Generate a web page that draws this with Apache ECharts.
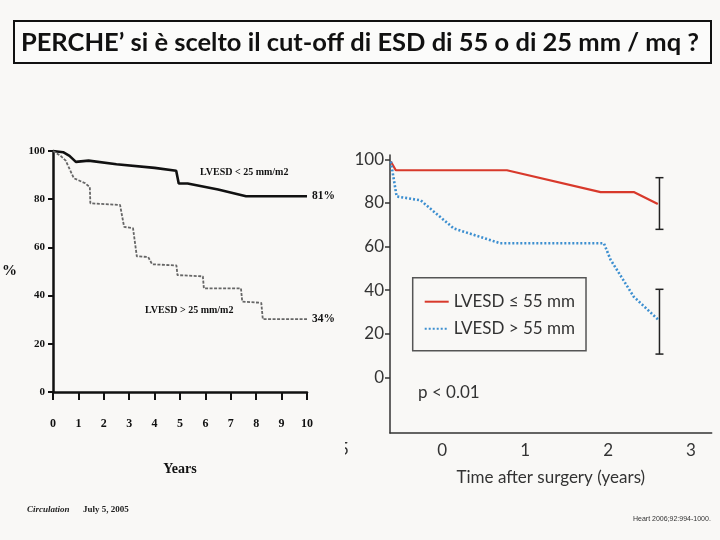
<!DOCTYPE html>
<html><head><meta charset="utf-8">
<script src="https://cdn.jsdelivr.net/npm/echarts@6/dist/echarts.min.js"></script>
<style>html,body{margin:0;padding:0;background:#f9f8f6}#c{width:720px;height:540px}</style>
</head><body><div id="c"></div>
<script>
// ---------- data ----------
const titleText = "PERCHE\u2019 si \u00e8 scelto il cut-off di ESD di 55 o di 25 mm / mq ?";

// Left panel (Circulation 2005): survival %, x = years
const leftXTicks = [0, 1, 2, 3, 4, 5, 6, 7, 8, 9, 10];
const leftYTicks = [0, 20, 40, 60, 80, 100];
const leftSmallName = "LVESD < 25 mm/m2";
const leftLargeName = "LVESD > 25 mm/m2";
const leftSmall = [[0,100],[0.4,99.5],[0.65,98],[0.9,95.5],[1.4,96],[2.5,94.5],[4.0,93],[4.85,91.8],[4.95,86.5],[5.3,86.5],[6.5,84],[7.6,81.2],[10,81.2]];
const leftLarge = [[0,100],[0.3,98],[0.5,96],[0.82,88.7],[1.27,86.6],[1.45,85],[1.47,78.3],[2.64,77.6],[2.8,68.5],[3.15,68],[3.3,56.3],[3.75,56],[3.9,53],[4.86,52.5],[4.9,48.5],[5.9,48],[5.94,43],[7.4,43],[7.45,37.5],[8.2,37],[8.26,30.2],[10,30.2]];
const leftEndLabels = ["81%", "34%"];
const leftYName = "%";
const leftXName = "Years";

// Right panel (Heart 2006): survival %, x = time after surgery (years)
const rightXTicks = [0, 1, 2, 3];
const rightYTicks = [0, 20, 40, 60, 80, 100];
const rightSmallName = "LVESD \u2264 55 mm";
const rightLargeName = "LVESD > 55 mm";
const rightSmall = [[-0.62,99],[-0.56,95],[0.78,95],[1.91,85],[2.31,85],[2.6,79.5]];
const rightLarge = [[-0.62,99],[-0.55,83],[-0.26,81.2],[-0.1,76],[0.14,68.3],[0.7,61.5],[1.95,61.5],[2.03,54],[2.31,37],[2.61,26.3]];
const rightErrorBars = [[2.62, 67.9, 91.6], [2.62, 10.7, 40.4]];
const rightXName = "Time after surgery (years)";
const pValueText = "p < 0.01";

const srcLeft1 = "Circulation", srcLeft2 = "July 5, 2005";
const srcRight = "Heart 2006;92:994-1000.";

// ---------- chart ----------
const chart = echarts.init(document.getElementById('c'));
const serif = '"Liberation Serif", "DejaVu Serif", serif';
const sans = 'Lato, "Open Sans", sans-serif';
const bg = '#f9f8f6';

const option = {
  backgroundColor: bg,
  animation: false,
  grid: [
    { left: 50.7, top: 151, width: 256.3, height: 241 },
    { left: 390, top: 155, width: 321.7, height: 278 }
  ],
  xAxis: [
    { gridIndex: 0, type: 'value', min: 0, max: 10, interval: 1,
      axisLine: { onZero: false, lineStyle: { color: '#111', width: 2.5 } },
      axisTick: { show: true, length: 8, lineStyle: { color: '#111', width: 2 } },
      axisLabel: { margin: 26, color: '#111', fontFamily: serif, fontWeight: 'bold', fontSize: 12 },
      splitLine: { show: false },
      name: leftXName, nameLocation: 'middle', nameGap: 70,
      nameTextStyle: { color: '#111', fontFamily: serif, fontWeight: 'bold', fontSize: 14 } },
    { gridIndex: 1, type: 'value', min: -0.63, max: 3.25,
      axisLine: { onZero: false, lineStyle: { color: '#333', width: 1.5 } },
      axisTick: { show: false },
      axisLabel: { customValues: rightXTicks, margin: 9, color: '#333', fontFamily: sans, fontSize: 17 },
      splitLine: { show: false },
      name: rightXName, nameLocation: 'middle', nameGap: 36,
      nameTextStyle: { color: '#333', fontFamily: sans, fontSize: 17 } }
  ],
  yAxis: [
    { gridIndex: 0, type: 'value', min: 0, max: 100, interval: 20,
      axisLine: { show: true, onZero: false, lineStyle: { color: '#111', width: 2.5 } },
      axisTick: { show: true, length: 5, lineStyle: { color: '#111', width: 2 } },
      axisLabel: { margin: 8, color: '#111', fontFamily: serif, fontWeight: 'bold', fontSize: 11 },
      splitLine: { show: false },
      name: leftYName, nameLocation: 'middle', nameRotate: 0, nameGap: 36,
      nameTextStyle: { color: '#111', fontFamily: serif, fontWeight: 'bold', fontSize: 15 } },
    { gridIndex: 1, type: 'value', min: -25.5, max: 102,
      axisLine: { show: true, onZero: false, lineStyle: { color: '#333', width: 1.5 } },
      axisTick: { show: true, customValues: rightYTicks, length: 5, lineStyle: { color: '#333', width: 1.5 } },
      axisLabel: { customValues: rightYTicks, margin: 6, color: '#333', fontFamily: sans, fontSize: 17 },
      splitLine: { show: false } }
  ],
  legend: {
    data: [rightSmallName, rightLargeName],
    orient: 'vertical', left: 412.7, top: 277.7,
    padding: [14, 11, 12, 11], itemGap: 7, itemWidth: 24, itemHeight: 14,
    borderColor: '#555', borderWidth: 1.5, backgroundColor: bg,
    itemStyle: { opacity: 0 },
    textStyle: { color: '#333', fontFamily: sans, fontSize: 17, lineHeight: 20 }
  },
  series: [
    { type: 'line', name: leftSmallName, xAxisIndex: 0, yAxisIndex: 0, data: leftSmall,
      symbol: 'none', lineStyle: { color: '#111', width: 2.6 },
      endLabel: { show: true, formatter: leftEndLabels[0], distance: 5, color: '#111', fontFamily: serif, fontWeight: 'bold', fontSize: 11.5 } },
    { type: 'line', name: leftLargeName, xAxisIndex: 0, yAxisIndex: 0, data: leftLarge,
      symbol: 'none', lineStyle: { color: '#666', width: 1.8, type: [3, 1.5] },
      endLabel: { show: true, formatter: leftEndLabels[1], distance: 5, color: '#111', fontFamily: serif, fontWeight: 'bold', fontSize: 11.5 } },
    { type: 'line', name: rightSmallName, xAxisIndex: 1, yAxisIndex: 1, data: rightSmall,
      symbol: 'none', itemStyle: { color: '#d8392b' }, lineStyle: { color: '#d8392b', width: 2.2 } },
    { type: 'line', name: rightLargeName, xAxisIndex: 1, yAxisIndex: 1, data: rightLarge,
      symbol: 'none', itemStyle: { color: '#3d8fd0' }, lineStyle: { color: '#3d8fd0', width: 2.6, type: [2, 2] } },
    { type: 'custom', name: 'CI', xAxisIndex: 1, yAxisIndex: 1, data: rightErrorBars,
      encode: { x: 0, y: [1, 2] },
      renderItem: function (params, api) {
        const x = api.value(0), lo = api.value(1), hi = api.value(2);
        const a = api.coord([x, lo]), b = api.coord([x, hi]);
        const w = 4, st = { stroke: '#222', lineWidth: 1.5 };
        return { type: 'group', children: [
          { type: 'line', shape: { x1: a[0], y1: a[1], x2: b[0], y2: b[1] }, style: st },
          { type: 'line', shape: { x1: a[0] - w, y1: a[1], x2: a[0] + w, y2: a[1] }, style: st },
          { type: 'line', shape: { x1: b[0] - w, y1: b[1], x2: b[0] + w, y2: b[1] }, style: st }
        ]};
      } }
  ],
  graphic: [
    { type: 'rect', shape: { x: 14, y: 21, width: 697, height: 42 }, style: { fill: '#fbfbfa', stroke: '#111', lineWidth: 2 } },
    { type: 'text', x: 360, y: 43, style: { text: titleText, align: 'center', verticalAlign: 'middle', fill: '#111', font: 'bold 25.5px Lato, "Open Sans", sans-serif' } },
    { type: 'text', x: 200, y: 172, style: { text: leftSmallName, verticalAlign: 'middle', fill: '#111', font: 'bold 10px "Liberation Serif", serif' } },
    { type: 'text', x: 145, y: 310, style: { text: leftLargeName, verticalAlign: 'middle', fill: '#111', font: 'bold 10px "Liberation Serif", serif' } },
    { type: 'text', x: 418, y: 393, style: { text: pValueText, verticalAlign: 'middle', fill: '#333', font: '17px Lato, "Open Sans", sans-serif' } },
    { type: 'text', x: 339, y: 450, style: { text: '5', verticalAlign: 'middle', fill: '#333', font: '17px Lato, "Open Sans", sans-serif' } },
    { type: 'rect', shape: { x: 330, y: 438, width: 15, height: 24 }, style: { fill: bg } },
    { type: 'text', x: 27, y: 510, style: { text: srcLeft1, verticalAlign: 'middle', fill: '#222', font: 'italic bold 9px "Liberation Serif", serif' } },
    { type: 'text', x: 83, y: 510, style: { text: srcLeft2, verticalAlign: 'middle', fill: '#222', font: 'bold 9px "Liberation Serif", serif' } },
    { type: 'text', x: 633, y: 519, style: { text: srcRight, verticalAlign: 'middle', fill: '#333', font: '7px "Liberation Sans Narrow", "Liberation Sans", sans-serif' } }
  ]
};
chart.setOption(option);
</script></body></html>
